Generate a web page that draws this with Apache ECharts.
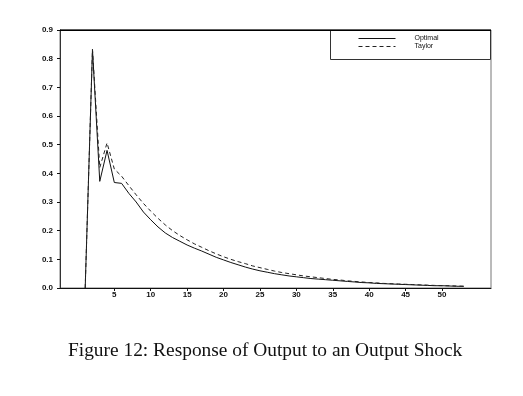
<!DOCTYPE html>
<html>
<head>
<meta charset="utf-8">
<script src="https://cdn.jsdelivr.net/npm/echarts@6/dist/echarts.min.js"></script>
<style>
html,body{margin:0;padding:0;background:#fff;}
#c{width:523px;height:396px;}
</style>
</head>
<body>
<div id="c"></div>
<script>
var periods = [];
for (var i = 1; i <= 53; i++) periods.push(i);
var optimal = [0, 0.832, 0.372, 0.480, 0.368, 0.365, 0.330, 0.300, 0.265, 0.238,
  0.213, 0.192, 0.176, 0.163, 0.150, 0.139, 0.129, 0.118, 0.107, 0.098,
  0.089, 0.081, 0.073, 0.066, 0.060, 0.055, 0.050, 0.046, 0.042, 0.039,
  0.036, 0.033, 0.031, 0.029, 0.027, 0.025, 0.023, 0.021, 0.019, 0.018,
  0.016, 0.015, 0.014, 0.013, 0.012, 0.011, 0.010, 0.009, 0.008, 0.008,
  0.007, 0.006, 0.006];
var taylor = [0, 0.832, 0.420, 0.506, 0.415, 0.390, 0.357, 0.325, 0.295, 0.268,
  0.243, 0.220, 0.200, 0.183, 0.168, 0.154, 0.142, 0.130, 0.119, 0.109,
  0.100, 0.092, 0.085, 0.077, 0.071, 0.065, 0.059, 0.054, 0.050, 0.046,
  0.042, 0.039, 0.036, 0.033, 0.030, 0.028, 0.025, 0.023, 0.021, 0.019,
  0.018, 0.016, 0.015, 0.014, 0.013, 0.012, 0.011, 0.010, 0.009, 0.008,
  0.008, 0.007, 0.006];
var xTicks = [5, 10, 15, 20, 25, 30, 35, 40, 45, 50];
var seriesNames = ['Optimal', 'Taylor'];
var caption = 'Figure 12: Response of Output to an Output Shock';

function pairs(ys) { return periods.map(function (p, i) { return [p, ys[i]]; }); }

var chart = echarts.init(document.getElementById('c'), null, {renderer: 'canvas'});
var labelFont = {fontFamily: 'Liberation Sans', fontSize: 8, fontWeight: 'bold', color: '#111'};
chart.setOption({
  backgroundColor: '#fff',
  animation: false,
  grid: {left: 60, right: 32, top: 30, bottom: 108, show: true, borderColor: '#777', borderWidth: 1},
  xAxis: {
    type: 'value', min: -2.46, max: 56.73,
    axisLine: {show: true, onZero: false, lineStyle: {color: '#111', width: 1}},
    axisTick: {show: true, customValues: xTicks, length: 3, lineStyle: {color: '#111'}},
    axisLabel: Object.assign({customValues: xTicks, margin: 3}, labelFont),
    splitLine: {show: false}
  },
  yAxis: {
    type: 'value', min: 0, max: 0.9, interval: 0.1,
    axisLine: {show: true, onZero: false, lineStyle: {color: '#333', width: 1}},
    axisTick: {show: true, length: 3, lineStyle: {color: '#111'}},
    axisLabel: Object.assign({margin: 7, formatter: function (v) { return v.toFixed(1); }}, labelFont),
    splitLine: {show: false}
  },
  legend: {
    left: 353, top: 30, orient: 'vertical', itemWidth: 37, itemHeight: 6, itemGap: 1,
    data: seriesNames,
    itemStyle: {opacity: 0},
    lineStyle: {width: 1},
    textStyle: {fontFamily: 'Liberation Sans', fontSize: 7, color: '#111', lineHeight: 6, padding: [0, 0, 0, 14]}
  },
  graphic: [
    {type: 'rect', shape: {x: 330.5, y: 30.5, width: 160, height: 29}, style: {fill: 'none', stroke: '#333', lineWidth: 1}, z: 10},
    {type: 'rect', shape: {x: 60, y: 29.5, width: 431, height: 1.5}, style: {fill: '#000'}, z: 11},
    {type: 'text', left: 68, top: 341, style: {text: caption, font: '19.4px "Liberation Serif"', fill: '#111'}}
  ],
  series: [
    {name: seriesNames[0], type: 'line', symbol: 'none', data: pairs(optimal),
     lineStyle: {color: '#111', width: 1}, itemStyle: {color: '#111'}},
    {name: seriesNames[1], type: 'line', symbol: 'none', data: pairs(taylor),
     lineStyle: {color: '#222', width: 1, type: [4, 3]}, itemStyle: {color: '#222'}}
  ]
});
</script>
</body>
</html>
